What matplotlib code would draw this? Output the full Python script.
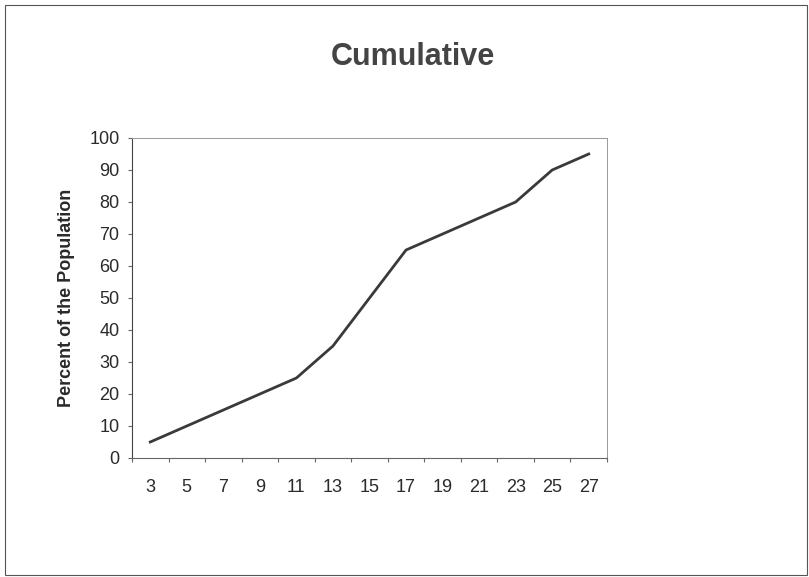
import matplotlib.pyplot as plt
from matplotlib.patches import Rectangle

# --- Data ---
categories = ["3", "5", "7", "9", "11", "13", "15", "17", "19", "21", "23", "25", "27"]
percent = [5, 10, 15, 20, 25, 35, 50, 65, 70, 75, 80, 90, 95]
y_ticks = [0, 10, 20, 30, 40, 50, 60, 70, 80, 90, 100]

plt.rcParams["font.family"] = ["Liberation Sans", "DejaVu Sans"]

fig = plt.figure(figsize=(8.09, 5.77), dpi=100)
ax = fig.add_axes([132 / 809, 1 - 458 / 577, 475 / 809, 320 / 577])

# --- Line ---
pos = list(range(len(categories)))
ax.plot(pos, percent, color="#3a3a3a", linewidth=2.0)

# --- Category axis: labels centred, ticks between categories ---
ax.set_xlim(-0.5, len(categories) - 0.5)
ax.set_xticks([p - 0.5 for p in pos] + [len(categories) - 0.5])
ax.set_xticklabels([])
ax.set_xticks(pos, minor=True)
ax.set_xticklabels(categories, minor=True)
ax.tick_params(axis="x", which="major", direction="out", length=3, width=0.8, color="#666666")
ax.tick_params(axis="x", which="minor", length=0, pad=15, labelsize=13, labelcolor="#2a2a2a")

ax.set_ylim(0, 100)
ax.set_yticks(y_ticks)
ax.tick_params(axis="y", direction="out", length=3, width=0.8, color="#666666",
               labelsize=13, labelcolor="#2a2a2a", pad=6)
ax.set_ylabel("Percent of the Population", fontsize=13, fontweight="bold",
              color="#2a2a2a", labelpad=10)

# --- Style plot area ---
ax.spines["left"].set_color("#444444")
ax.spines["bottom"].set_color("#666666")
for s in ["top", "right"]:
    ax.spines[s].set_color("#999999")
    ax.spines[s].set_linewidth(0.7)

fig.text(413 / 809, 1 - 57 / 577, "Cumulative", ha="center", va="center",
         fontsize=22, fontweight="bold", color="#444444")

# --- Outer chart border ---
fig.patches.append(Rectangle((5 / 809, 2 / 577), 802 / 809, 570 / 577,
                             transform=fig.transFigure, fill=False,
                             edgecolor="#555555", linewidth=0.8))

fig.savefig("out.png", dpi=100)
